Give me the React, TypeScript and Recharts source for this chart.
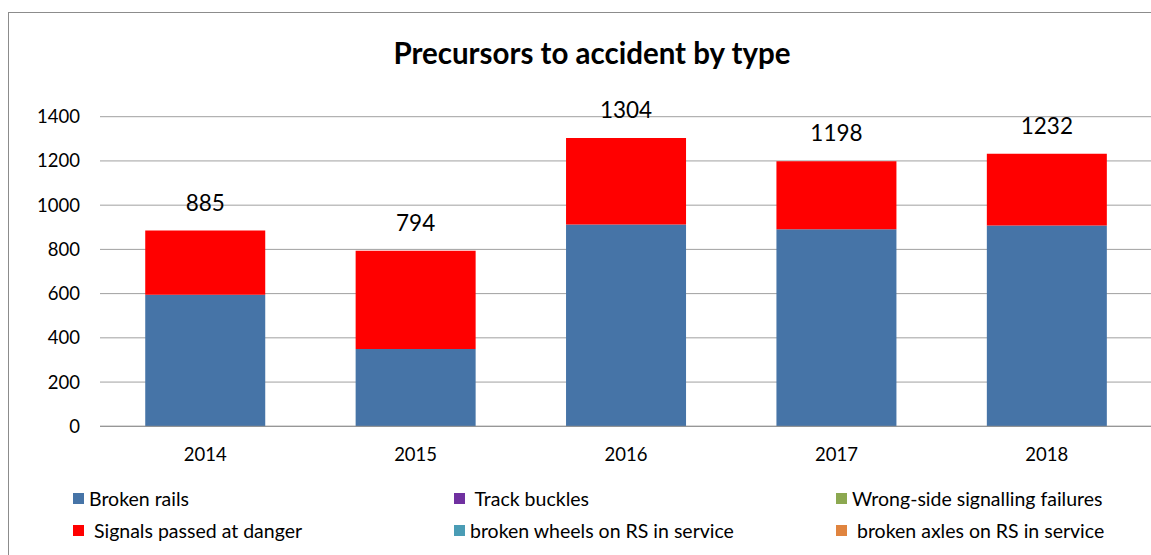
import React from "react";
import { BarChart, Bar, XAxis, YAxis, CartesianGrid, LabelList } from "recharts";

const years = ["2014", "2015", "2016", "2017", "2018"];
const brokenRails = [595, 350, 912, 891, 908];
const trackBuckles = [0, 0, 0, 0, 0];
const wrongSide = [0, 0, 0, 0, 0];
const spad = [290, 444, 392, 307, 324];
const brokenWheels = [0, 0, 0, 0, 0];
const brokenAxles = [0, 0, 0, 0, 0];
const yTicks = [0, 200, 400, 600, 800, 1000, 1200, 1400];

const series = [
  { key: "rails", name: "Broken rails", values: brokenRails, color: "#4674A7" },
  { key: "buckles", name: " Track buckles", values: trackBuckles, color: "#7030A0" },
  { key: "wrong", name: "Wrong-side signalling failures", values: wrongSide, color: "#8CA850" },
  { key: "spad", name: " Signals passed at danger", values: spad, color: "#FF0000" },
  { key: "wheels", name: "broken wheels on RS in service", values: brokenWheels, color: "#4A9CB5" },
  { key: "axles", name: " broken axles on RS in service", values: brokenAxles, color: "#E0843F" },
];

const data = years.map((y, i) => {
  const row: any = { year: y };
  let total = 0;
  series.forEach((s) => {
    row[s.key] = s.values[i];
    total += s.values[i];
  });
  row.total = total;
  return row;
});

const FONT = "Lato, 'Liberation Sans', sans-serif";

export default function App() {
  return (
    <div
      style={{
        position: "fixed",
        left: 8,
        top: 12,
        width: 1142,
        height: 543,
        borderTop: "1px solid #8c8c8c",
        borderLeft: "1px solid #8c8c8c",
        overflow: "hidden",
        background: "#fff",
        fontFamily: FONT,
      }}
    >
      <div
        style={{
          position: "absolute",
          left: 583,
          top: 39,
          transform: "translate(-50%, -50%)",
          fontSize: 29.5,
          fontWeight: 700,
          whiteSpace: "nowrap",
          color: "#000",
        }}
      >
        Precursors to accident by type
      </div>
      <BarChart
        width={1160}
        height={530}
        data={data}
        margin={{ top: 103.7, right: 17, left: 0, bottom: 86.7 }}
        barCategoryGap="21.5%"
        style={{ fontFamily: FONT }}
      >
        <CartesianGrid vertical={false} stroke="#a0a0a0" strokeWidth={1} />
        <XAxis
          dataKey="year"
          height={30}
          tickLine={false}
          axisLine={{ stroke: "#909090" }}
          tickMargin={16}
          tick={{ fill: "#000", fontSize: 18.5, fontFamily: FONT }}
        />
        <YAxis
          width={91}
          domain={[0, 1400]}
          ticks={yTicks}
          tickLine={false}
          axisLine={false}
          tickMargin={14}
          tick={{ fill: "#000", fontSize: 18.5, fontFamily: FONT }}
        />
        {series.map((s) => (
          <Bar
            key={s.key}
            dataKey={s.key}
            name={s.name}
            stackId="a"
            fill={s.color}
            isAnimationActive={false}
          >
            {s.key === "spad" ? (
              <LabelList
                dataKey="total"
                position="top"
                offset={20}
                style={{ fill: "#000", fontSize: 22.5, fontFamily: FONT }}
              />
            ) : null}
          </Bar>
        ))}
      </BarChart>
      {series.map((s, i) => {
        const col = i % 3;
        const row = Math.floor(i / 3);
        const xs = [64, 445, 827];
        const ys = [485, 517];
        return (
          <div
            key={s.key}
            style={{
              position: "absolute",
              left: xs[col],
              top: ys[row] - 13,
              height: 26,
              display: "flex",
              alignItems: "center",
              fontSize: 19.5,
              color: "#000",
              whiteSpace: "pre",
            }}
          >
            <span style={{ display: "inline-block", width: 11, height: 11, background: s.color, marginRight: 5 }} />
            <span>{s.name}</span>
          </div>
        );
      })}
    </div>
  );
}
